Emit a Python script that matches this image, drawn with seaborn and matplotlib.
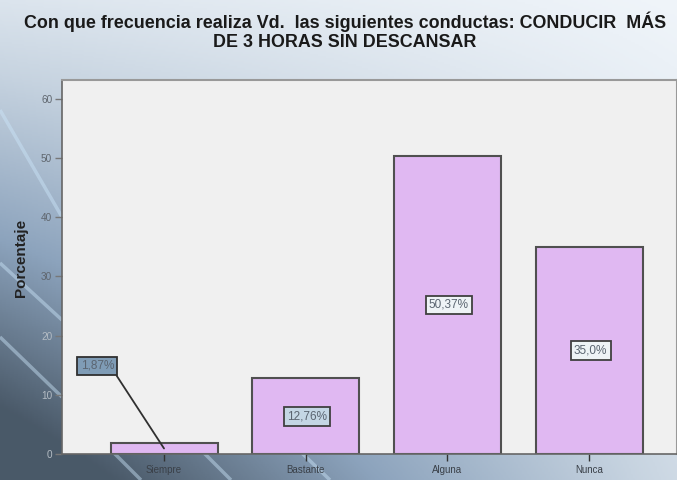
import numpy as np
import pandas as pd
import matplotlib
matplotlib.use("Agg")
import matplotlib.pyplot as plt
from matplotlib.colors import LinearSegmentedColormap
import seaborn as sns

categories = ["Siempre", "Bastante", "Alguna", "Nunca"]
values = [1.87, 12.76, 50.37, 35.0]
labels = ["1,87%", "12,76%", "50,37%", "35,0%"]
yticks = [0, 10, 20, 30, 40, 50, 60]
title = "Con que frecuencia realiza Vd.  las siguientes conductas: CONDUCIR  MÁS\nDE 3 HORAS SIN DESCANSAR"
ylabel = "Porcentaje"

sns.set_theme(style="white")
plt.rcParams["font.family"] = ["Liberation Sans", "DejaVu Sans"]

W, H = 677, 480
fig = plt.figure(figsize=(W / 100, H / 100), dpi=100)

# background gradient (decorative)
bg = fig.add_axes([0, 0, 1, 1], zorder=-10)
yy, xx = np.mgrid[0:1:240j, 0:1:340j]
w = np.clip(yy * (1 - 0.75 * xx) + 0.15 * (1 - xx), 0, 1)
cmap = LinearSegmentedColormap.from_list(
    "bg", [(0.0, (0.94, 0.96, 0.98)), (0.3, (0.78, 0.83, 0.88)),
           (0.65, (0.55, 0.64, 0.74)), (1.0, (0.29, 0.35, 0.41))])
bg.imshow(w, cmap=cmap, aspect="auto", extent=[0, W, H, 0], vmin=0, vmax=1)
for (x0, y0, x1, y1) in [(0, 110, 62, 217), (0, 263, 62, 320), (0, 337, 62, 397),
                         (95, 434, 141, 480), (185, 434, 231, 480), (282, 434, 330, 480)]:
    bg.plot([x0, x1], [y0, y1], color=(0.80, 0.90, 0.98), lw=2.5, alpha=0.45,
            solid_capstyle="butt")
bg.set_xlim(0, W)
bg.set_ylim(H, 0)
bg.axis("off")

left, right, top, bottom = 62, 677, 80, 454
ax = fig.add_axes([left / W, 1 - bottom / H, (right - left) / W, (bottom - top) / H])
ax.set_facecolor("#f0f0f0")

df = pd.DataFrame({"cat": categories, "val": values})
sns.barplot(data=df, x="cat", y="val", ax=ax, color="#e0b8f2", width=0.755,
            edgecolor="#505050", linewidth=1.5, saturation=1)

ax.set_xlim(-0.72, 3.62)
ax.set_ylim(0, 63.2)
ax.set_yticks(yticks)
ax.set_yticklabels([str(t) for t in yticks], fontsize=7.2)
for t, lbl in zip(yticks, ax.get_yticklabels()):
    lbl.set_color("#5f666e" if t >= 30 else "#b4bcc4")
ax.set_xticks(range(len(categories)))
ax.set_xticklabels(categories, fontsize=7, color="#3a4048")
ax.tick_params(axis="y", length=5, width=1, color="#777777", pad=2, left=True)
ax.tick_params(axis="x", length=5, width=1, color="#333333", pad=3, bottom=True, direction="out")
ax.set_xlabel("")
ax.set_ylabel(ylabel, fontsize=11, fontweight="bold", color="#222222")
ax.yaxis.set_label_coords(-0.055, 0.524)

for s in ["top", "right"]:
    ax.spines[s].set_color("#999999")
    ax.spines[s].set_linewidth(1.5)
ax.spines["left"].set_color("#666666")
ax.spines["bottom"].set_color("#666666")
ax.spines["left"].set_linewidth(1.2)
ax.spines["bottom"].set_linewidth(1.2)

# value labels
for i, (v, lab) in enumerate(zip(values, labels)):
    if i == 0:
        ax.annotate(lab, xy=(i, v / 2), xytext=(i - 0.47, 14.9), ha="center", va="center",
                    fontsize=8.5, color="#5a6470",
                    bbox=dict(boxstyle="square,pad=0.28", fc="#7f9cb6", ec="#303030", lw=1.3),
                    arrowprops=dict(arrowstyle="-", color="#303030", lw=1.3, relpos=(1, 0),
                                    shrinkA=0, shrinkB=0))
    else:
        fc = "#c4d6e4" if i == 1 else "#eef3f6"
        ax.text(i + 0.01, v / 2, lab, ha="center", va="center", fontsize=8.5, color="#5a6470",
                bbox=dict(boxstyle="square,pad=0.28", fc=fc, ec="#404040", lw=1.3))

fig.text(345 / W, 1 - 31 / H, title, ha="center", va="center", fontsize=12.9,
         fontweight="bold", color="#1a1a1a", linespacing=1.18)

fig.savefig("out.png", dpi=100)
